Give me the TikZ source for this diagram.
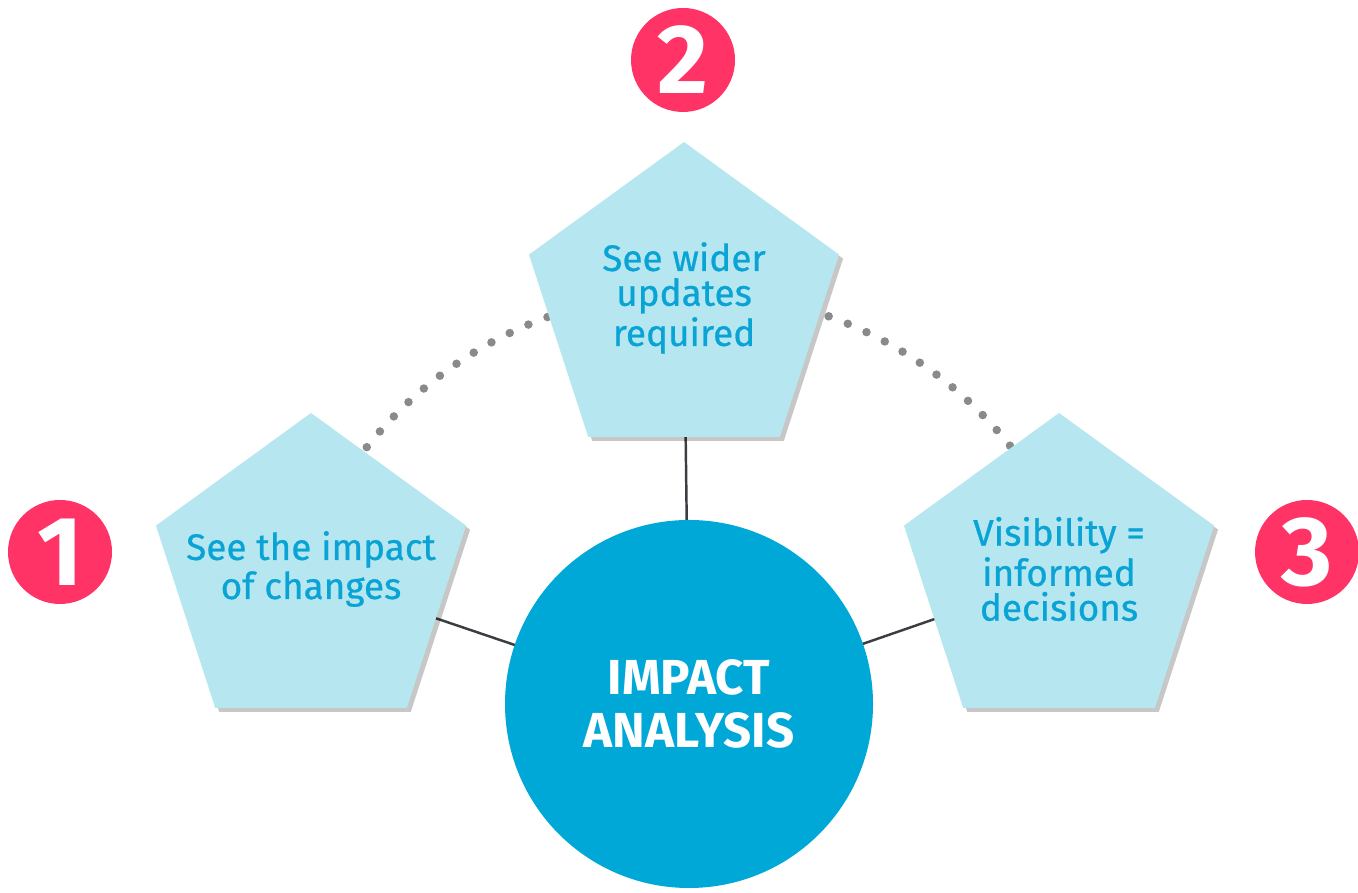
\documentclass[tikz,border=0pt]{standalone}
\usepackage{fontspec}
\setmainfont{Fira Sans}
\newfontfamily\pentfont[FakeBold=0.7]{Fira Sans}
\usetikzlibrary{shapes.geometric,shadows,backgrounds}
\definecolor{badgepink}{HTML}{FF3366}
\definecolor{penfill}{HTML}{B6E7F0}
\definecolor{pentext}{HTML}{0AA3D6}
\definecolor{hubblue}{HTML}{00A8D8}
\definecolor{dotgray}{HTML}{8A8A8A}
\definecolor{linkgray}{HTML}{3A3E42}

\begin{document}
\begin{tikzpicture}[
		penta/.style={regular polygon,regular polygon sides=5,minimum size=3.26cm,inner sep=0pt,
			fill=penfill,drop shadow={shadow xshift=0.4mm,shadow yshift=-0.4mm,fill=black,opacity=0.22}},
		pentlabel/.style={text=pentext,align=center,yshift=0.7mm,font=\pentfont\fontsize{10.5}{9.9}\selectfont},
		badge/.style={circle,fill=badgepink,text=white,minimum size=1.04cm,inner sep=0pt,
			font=\fontsize{28}{28}\selectfont\bfseries},
		link/.style={linkgray,line width=0.7pt}
	]
				\useasboundingbox (0,0) rectangle (13.58,8.93);

				\node[circle,fill=hubblue,minimum size=3.68cm,inner sep=0pt,text=white,align=center,
					font=\fontsize{14}{15.2}\selectfont\bfseries] (ia) at (6.89,1.89) {IMPACT\\ANALYSIS};

				\node[penta,label={[pentlabel]center:See the impact\\of changes}] (p1) at (3.11,3.17) {};
				\node[penta,label={[pentlabel]center:See wider\\updates\\required}] (p2) at (6.84,5.88) {};
				\node[penta,label={[pentlabel]center:Visibility =\\informed\\decisions}] (p3) at (10.59,3.17) {};

				\node[badge] (b1) at (0.60,3.41) {1};
				\node[badge] (b2) at (6.83,8.33) {2};
				\node[badge] (b3) at (13.07,3.41) {3};

				\begin{scope}[on background layer]
					\draw[dotgray,line width=0.85mm,line cap=round,dash pattern=on 0pt off 2.05mm]
					([shift={(150:4.12)}]ia.center) arc (150:30:4.12);
					\draw[link] (ia.center) -- (p1.center);
					\draw[link] (ia.center) -- (p2.center);
					\draw[link] (ia.center) -- (p3.center);
				\end{scope}
			\end{tikzpicture}
\end{document}
